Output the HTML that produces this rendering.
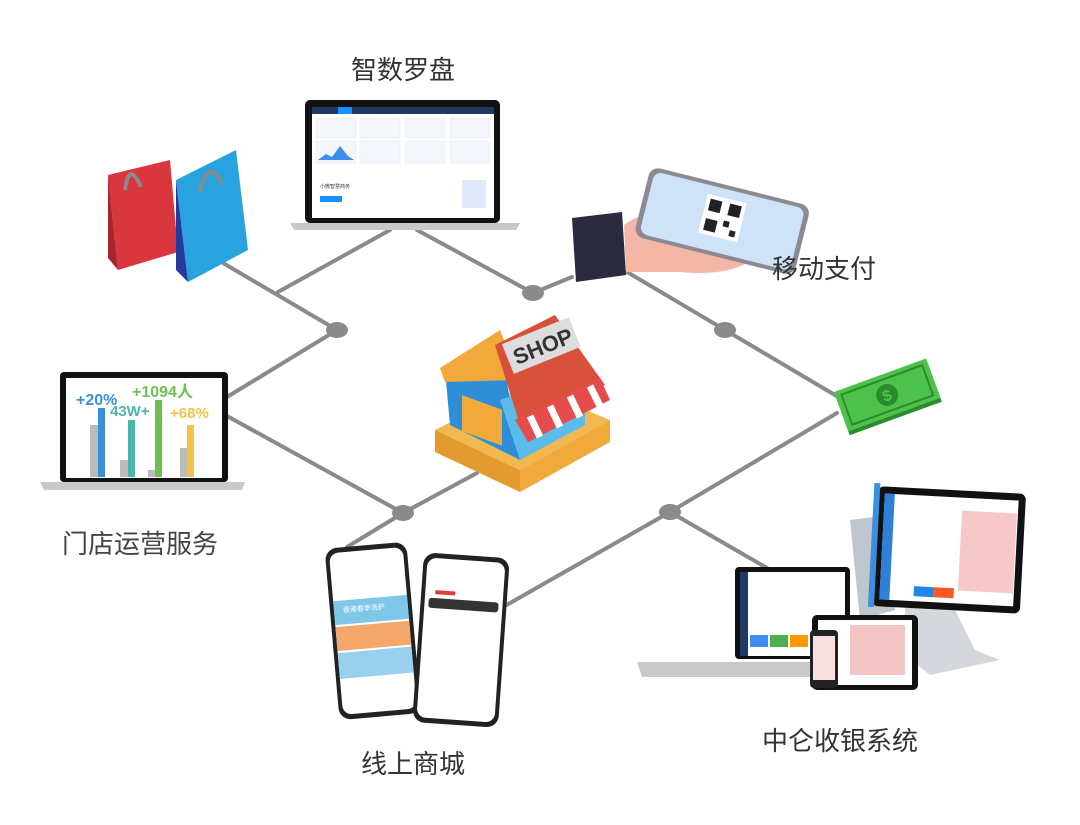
<!DOCTYPE html>
<html><head><meta charset="utf-8"><style>
html,body{margin:0;padding:0;background:#fff;}
svg{display:block;}
text{font-family:"Liberation Sans","Noto Sans CJK SC",sans-serif;}
</style></head><body>
<svg width="1080" height="825" viewBox="0 0 1080 825" xmlns="http://www.w3.org/2000/svg">
<rect width="1080" height="825" fill="#fff"/>
<g stroke="#8a8a8a" stroke-width="4" fill="none" stroke-linecap="round">
<line x1="223" y1="263" x2="337" y2="330"/>
<line x1="390" y1="230" x2="278" y2="292"/>
<line x1="337" y1="330" x2="227" y2="397"/>
<line x1="227" y1="416" x2="403" y2="513"/>
<line x1="403" y1="513" x2="477" y2="473"/>
<line x1="403" y1="513" x2="347" y2="547"/>
<line x1="417" y1="230" x2="533" y2="293"/>
<line x1="533" y1="293" x2="572" y2="277"/>
<line x1="627" y1="272" x2="840" y2="398"/>
<line x1="837" y1="413" x2="670" y2="512"/>
<line x1="670" y1="512" x2="503" y2="607"/>
<line x1="670" y1="512" x2="767" y2="568"/>
</g>
<g fill="#8a8a8a">
<ellipse cx="337" cy="330" rx="11" ry="8"/>
<ellipse cx="533" cy="293" rx="11" ry="8"/>
<ellipse cx="725" cy="330" rx="11" ry="8"/>
<ellipse cx="403" cy="513" rx="11" ry="8"/>
<ellipse cx="670" cy="512" rx="11" ry="8"/>
</g>

<!-- top laptop -->
<rect x="305" y="100" width="195" height="123" rx="5" fill="#111"/>
<rect x="312" y="107" width="182" height="111" fill="#fff"/>
<rect x="312" y="107" width="182" height="7" fill="#1f3a5f"/>
<rect x="338" y="107" width="14" height="7" fill="#1890ff"/>
<g fill="#f3f6fa" stroke="#e5e9ef" stroke-width="0.5">
<rect x="316" y="118" width="40" height="20"/><rect x="360" y="118" width="40" height="20"/><rect x="405" y="118" width="40" height="20"/><rect x="450" y="118" width="40" height="20"/>
<rect x="316" y="141" width="40" height="22"/><rect x="360" y="141" width="40" height="22"/><rect x="405" y="141" width="40" height="22"/><rect x="450" y="141" width="40" height="22"/>
</g>
<path d="M318 160 L326 154 L332 157 L340 146 L348 156 L354 160 Z" fill="#3b8fe8"/>
<text x="320" y="188" font-size="5" fill="#333">小微智慧商务</text>
<rect x="320" y="196" width="22" height="6" fill="#1890ff"/>
<rect x="462" y="180" width="24" height="28" fill="#dfe9f7"/>
<path d="M290 223 H520 L516 230 H294 Z" fill="#c9c9cc"/>

<!-- bags -->
<polygon points="108,175 170,160 178,252 118,270" fill="#d9373d"/>
<polygon points="108,175 118,270 108,258" fill="#a8262b"/>
<path d="M125 190 q4 -30 16 -3" stroke="#8a8a8a" stroke-width="4" fill="none"/>
<polygon points="176,180 236,150 248,250 188,282" fill="#29a3df"/>
<polygon points="176,180 188,282 176,270" fill="#243a9c"/>
<path d="M200 192 q8 -36 22 -8" stroke="#8a8a8a" stroke-width="4" fill="none"/>

<!-- hand + phone -->
<polygon points="572,218 622,212 626,275 576,282" fill="#2b2b40"/>
<path d="M624 225 C650 205 690 210 720 215 L760 250 C750 268 720 276 680 272 L626 272 Z" fill="#f4b7a5"/>
<g transform="rotate(14 722 220)">
<rect x="640" y="185" width="165" height="72" rx="10" fill="#8a8a92"/>
<rect x="645" y="189" width="155" height="64" rx="8" fill="#cfe3f8"/>
<rect x="702" y="198" width="40" height="40" fill="#fff"/>
<rect x="706" y="202" width="12" height="12" fill="#222"/><rect x="726" y="202" width="12" height="12" fill="#222"/><rect x="706" y="222" width="12" height="12" fill="#222"/><rect x="724" y="220" width="6" height="6" fill="#222"/><rect x="732" y="228" width="6" height="6" fill="#222"/>
</g>
<text x="772" y="278" font-size="26" fill="#333">移动支付</text>

<!-- money -->
<g transform="rotate(-20 888 400)">
<rect x="840" y="378" width="98" height="42" fill="#2c8a2e"/>
<rect x="840" y="374" width="98" height="42" fill="#4cc24a"/>
<rect x="846" y="379" width="86" height="32" fill="none" stroke="#2c8a2e" stroke-width="2"/>
<circle cx="889" cy="395" r="11" fill="#2c8a2e"/>
<text x="884" y="401" font-size="16" font-weight="bold" fill="#4cc24a">$</text>
</g>

<!-- left laptop -->
<rect x="60" y="372" width="168" height="110" rx="4" fill="#111"/>
<rect x="66" y="378" width="156" height="100" fill="#fff"/>
<rect x="90" y="425" width="8" height="52" fill="#bbb"/><rect x="98" y="408" width="7" height="69" fill="#3a8fd8"/>
<rect x="120" y="460" width="8" height="17" fill="#bbb"/><rect x="128" y="420" width="7" height="57" fill="#4db6ac"/>
<rect x="148" y="470" width="8" height="7" fill="#bbb"/><rect x="155" y="400" width="7" height="77" fill="#6fc04f"/>
<rect x="180" y="448" width="7" height="29" fill="#bbb"/><rect x="187" y="425" width="7" height="52" fill="#f2c24a"/>
<text x="76" y="405" font-size="16" font-weight="bold" fill="#3a8fd8">+20%</text>
<text x="132" y="397" font-size="16" font-weight="bold" fill="#6fc04f">+1094人</text>
<text x="110" y="416" font-size="15" font-weight="bold" fill="#4db6ac">43W+</text>
<text x="170" y="418" font-size="15" font-weight="bold" fill="#f2c24a">+68%</text>
<path d="M40 482 H245 L242 490 H44 Z" fill="#c9c9cc"/>
<text x="62" y="553" font-size="26" fill="#444">门店运营服务</text>

<!-- store -->
<polygon points="435,430 520,470 610,420 525,385" fill="#f2b84f"/>
<polygon points="435,430 520,470 520,492 435,452" fill="#e39a2e"/>
<polygon points="520,470 610,420 610,442 520,492" fill="#f0a93a"/>
<polygon points="445,370 500,340 520,460 450,425" fill="#2f8fd6"/>
<polygon points="500,400 585,370 585,425 520,460" fill="#5bbbe9"/>
<polygon points="440,368 500,330 520,380 445,382" fill="#f0a93a"/>
<polygon points="495,345 555,315 605,385 520,425" fill="#d9503a"/>
<rect x="462" y="392" width="40" height="36" fill="#f0a93a" transform="skewY(20) translate(0 -165)"/>
<g transform="rotate(-22 540 345)">
<rect x="505" y="330" width="72" height="32" fill="#ddd"/>
<text x="511" y="355" font-size="22" font-weight="bold" fill="#333">SHOP</text>
</g>
<g>
<polygon points="515,420 600,378 610,400 528,442" fill="#e74c4c"/>
<g stroke="#fff" stroke-width="7"><line x1="530" y1="416" x2="540" y2="437"/><line x1="550" y1="406" x2="560" y2="427"/><line x1="570" y1="396" x2="580" y2="417"/><line x1="590" y1="386" x2="600" y2="406"/></g>
</g>
<text x="351" y="79" font-size="26" fill="#333">智数罗盘</text>

<!-- phones -->
<g transform="rotate(-5 372 632)">
<rect x="332" y="545" width="82" height="172" rx="12" fill="#222"/>
<rect x="336" y="550" width="74" height="162" rx="9" fill="#fff"/>
<rect x="336" y="598" width="74" height="24" fill="#7fc7e8"/>
<rect x="336" y="624" width="74" height="24" fill="#f4a86c"/>
<rect x="336" y="650" width="74" height="26" fill="#9ad0ec"/>
<text x="345" y="610" font-size="7" fill="#fff">香港春季洗护</text>
</g>
<g transform="rotate(4 460 640)">
<rect x="418" y="555" width="86" height="170" rx="12" fill="#222"/>
<rect x="422" y="560" width="78" height="160" rx="9" fill="#fff"/>
<rect x="426" y="600" width="70" height="10" rx="3" fill="#333"/>
<rect x="432" y="592" width="20" height="4" fill="#e53935"/>
</g>
<text x="361" y="773" font-size="26" fill="#333">线上商城</text>

<!-- POS group -->
<polygon points="850,520 890,515 895,610 860,620" fill="#c0c6cd"/>
<polygon points="905,600 950,600 975,650 1000,660 930,675 905,655" fill="#d4d8dd"/>
<g transform="rotate(3 950 550)">
<rect x="875" y="490" width="148" height="120" rx="6" fill="#111"/>
<rect x="871" y="487" width="6" height="124" fill="#3a8fe0"/>
<rect x="882" y="497" width="134" height="106" fill="#fff"/>
<rect x="882" y="497" width="10" height="106" fill="#2f7fd8"/>
<rect x="960" y="510" width="55" height="80" fill="#f6c8c8"/>
<rect x="916" y="588" width="20" height="10" fill="#1e88e5"/><rect x="936" y="588" width="20" height="10" fill="#ff5722"/>
</g>
<rect x="735" y="567" width="115" height="92" rx="4" fill="#111"/>
<rect x="740" y="572" width="105" height="84" fill="#fff"/>
<rect x="740" y="572" width="8" height="84" fill="#1e3a66"/>
<rect x="750" y="635" width="18" height="12" fill="#3d8ef0"/><rect x="770" y="635" width="18" height="12" fill="#4caf50"/><rect x="790" y="635" width="18" height="12" fill="#ff9800"/><rect x="810" y="635" width="18" height="12" fill="#f44336"/>
<path d="M637 662 H815 L810 677 H642 Z" fill="#c9c9cc"/>
<rect x="812" y="615" width="106" height="75" rx="5" fill="#111"/>
<rect x="818" y="620" width="94" height="65" fill="#fff"/>
<rect x="850" y="625" width="55" height="50" fill="#f3c5c5"/>
<rect x="810" y="630" width="28" height="58" rx="4" fill="#222"/>
<rect x="813" y="636" width="22" height="44" fill="#f8e0e0"/>
<text x="762" y="750" font-size="26" fill="#333">中仑收银系统</text>
</svg>
</body></html>
